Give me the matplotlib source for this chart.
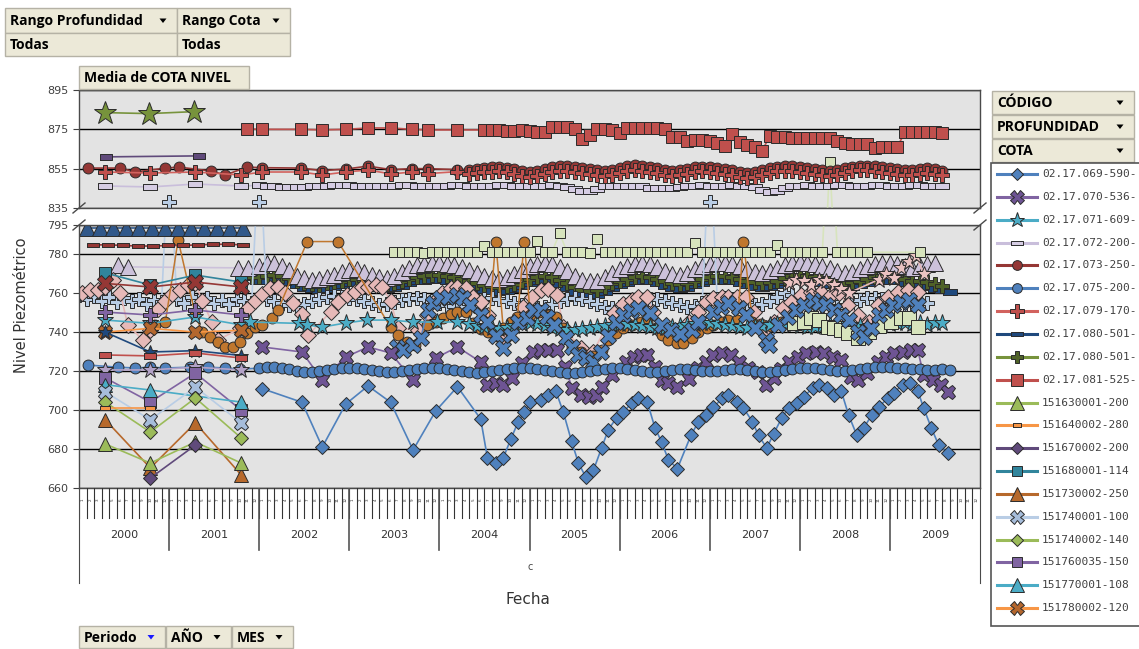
import numpy as np
import matplotlib
matplotlib.use("Agg")
import matplotlib.pyplot as plt
from matplotlib.patches import Rectangle, Polygon

plt.rcParams["font.family"] = ["DejaVu Sans"]

W, H = 1139, 649

# ---------------------------------------------------------------
# datos: posicion en meses contados desde enero de 2000, valor en m
# ---------------------------------------------------------------
meses_2000_2001 = [3.5, 9.5, 15.5, 21.6]

# panel superior
estrella_oliva_mes = [3.5, 9.3, 15.3]
estrella_oliva = [883.5, 883.0, 884.0]

barra_morada_mes = [3.6, 16.0]
barra_morada = [861.0, 861.5]

cota_081_pares = [(22.4, 875.2), (24.4, 875.0), (29.6, 875.0), (32.4, 874.7),
                  (35.5, 875.0), (38.5, 875.7), (41.6, 875.7), (44.3, 875.0),
                  (46.5, 874.7), (50.4, 874.7)]
cota_081_mensual = [  # desde el mes 54
    874.7, 874.7, 874.7, 874.3, 874.3, 874.7, 874.3, 873.8, 873.8, 876.0,
    876.0, 876.0, 875.0, 870.0, 872.0, 875.0, 875.0, 874.7, 873.3, 875.5,
    875.5, 875.5, 875.5, 875.5, 875.0, 871.3, 871.0, 869.2, 869.6, 869.6,
    869.2, 867.9, 866.5, 872.5, 868.7, 867.0, 866.2, 864.2, 871.6, 871.3,
    871.0, 870.4, 870.4, 870.8, 870.8, 870.4, 870.4, 869.2, 867.9, 867.6,
    867.6, 867.6, 865.7, 866.2, 866.2, 866.2, 873.5, 873.5, 873.5, 873.5,
    873.8, 873.3]

cota_073_pares = [(1.2, 855.3), (5.5, 855.3), (7.5, 853.3), (11.5, 855.3),
                  (13.3, 855.8), (17.6, 853.8), (19.5, 851.8), (22.4, 855.8),
                  (24.4, 855.5), (29.6, 855.3), (32.4, 854.0), (35.5, 854.8),
                  (38.5, 856.3), (41.6, 854.5), (44.3, 855.0), (46.5, 855.0),
                  (50.4, 854.5)]
cota_073_mensual = [  # desde el mes 52
    854.5, 855.0, 855.5, 855.8, 856.0, 855.5, 855.0, 854.0, 853.5, 854.0, 855.0, 855.8,
    856.3, 856.5, 856.0, 855.5, 855.0, 854.5, 854.0, 854.5, 855.5, 856.3, 856.8, 856.5,
    856.0, 855.5, 854.5, 854.0, 854.5, 855.0, 855.8, 856.0, 856.0, 855.5, 855.0, 854.5,
    853.5, 853.0, 853.5, 854.5, 855.3, 856.0, 856.3, 856.3, 856.0, 855.5, 855.0, 854.5,
    854.0, 854.5, 855.5, 856.0, 856.5, 856.5, 856.3, 856.0, 855.5, 855.0, 854.5, 854.5,
    855.0, 855.3, 854.8, 854.0]

cota_079_pares = [(3.5, 853.3), (9.5, 852.8), (15.5, 853.3), (21.6, 851.8),
                  (24.4, 853.3), (29.6, 853.3), (32.4, 851.8), (35.5, 853.3),
                  (38.5, 854.3), (41.6, 852.3), (44.3, 853.3), (46.5, 852.5),
                  (50.4, 853.5)]
cota_079_mensual = [  # desde el mes 52
    852.5, 853.0, 853.5, 853.5, 854.0, 853.5, 852.5, 851.5, 850.8, 851.5, 852.5, 853.5,
    854.0, 854.0, 853.5, 853.0, 852.5, 852.0, 851.5, 852.0, 853.0, 854.0, 854.3, 854.0,
    853.5, 853.0, 852.0, 851.5, 852.0, 852.5, 853.5, 853.8, 853.5, 853.0, 852.5, 852.0,
    851.0, 850.5, 851.0, 852.0, 853.0, 853.8, 854.0, 854.0, 853.5, 853.0, 852.5, 852.0,
    851.5, 852.0, 853.0, 853.8, 854.3, 854.3, 854.0, 853.5, 853.0, 852.5, 852.0, 852.0,
    852.5, 853.0, 852.5, 852.0]

cota_072_inicio = [846.2, 845.7, 847.2, 846.2]
cota_072_mensual = [  # desde el mes 24
    846.5, 846.3, 846.0, 845.8, 845.7, 845.7, 845.8, 846.0, 846.2, 846.3, 846.5, 846.5,
    846.5, 846.3, 846.2, 846.0, 846.0, 846.2, 846.3, 846.5, 846.5, 846.3, 846.2, 846.0,
    846.0, 846.2, 846.5, 846.5, 846.3, 846.0, 846.2, 846.3, 846.5, 846.5, 846.3, 846.0,
    846.0, 846.2, 846.3, 846.5, 846.3, 845.8, 844.5, 843.5, 843.5, 844.5, 846.0, 846.3,
    846.2, 846.3, 846.3, 846.0, 845.2, 845.0, 845.0, 845.2, 845.5, 846.0, 846.3, 846.5,
    846.3, 846.2, 846.3, 846.5, 846.3, 846.0, 845.5, 844.0, 843.0, 843.5, 845.0, 846.0,
    846.3, 846.5, 846.3, 846.2, 846.3, 846.5, 846.5, 846.3, 846.2, 846.3, 846.5, 846.5,
    846.3, 846.2, 846.3, 846.5, 846.5, 846.3, 846.2, 846.3]

# panel inferior
triangulos_marino_mes = [1.1, 2.8, 4.5, 6.3, 8.0, 9.7, 11.5, 13.2, 14.9, 16.7, 18.4, 20.1, 21.9]
triangulos_marino = [793.5, 793.5, 793.5, 793.5, 793.5, 793.5, 793.5, 793.5, 793.5,
                     793.5, 793.5, 793.5, 793.5]

rect_granate_mes = [1.9, 3.9, 5.9, 7.9, 9.9, 11.9, 13.9, 15.9, 17.9, 19.9, 21.9]
rect_granate = [784.8, 784.8, 784.5, 784.2, 784.2, 784.5, 784.5, 784.8, 785.1, 785.1, 784.8]

verde_palido_mensual = [  # desde el mes 42
    781.0, 781.0, 781.3, 781.0, 780.8, 781.0, 781.0, 781.3, 781.0, 781.0, 781.0, 781.3,
    784.2, 781.3, 781.0, 781.0, 781.0, 781.3, 781.0, 786.8, 781.3, 781.0, 790.9, 781.0,
    781.0, 781.0, 780.8, 787.8, 781.0, 781.0, 781.0, 781.3, 781.0, 781.0, 781.0, 781.0,
    781.3, 781.0, 781.0, 781.0, 785.8, 781.3, 781.0, 781.0, 781.0, 781.0, 781.3, 781.0,
    781.0, 781.0, 781.0, 784.7, 781.3, 781.0, 781.0, 781.0, 781.0, 781.0, 858.4, 781.0,
    781.0, 781.0, 781.3, 781.0]
verde_palido_final = [(112.0, 781.0)]

lila_pares = [(5.2, 774.5), (6.5, 773.5), (21.2, 773.0), (22.5, 773.0)]
lila_mensual = [  # desde el mes 24
    774.0, 775.5, 775.5, 774.0, 772.0, 769.0, 768.0, 767.0, 767.5, 768.5, 769.5, 771.0,
    772.0, 772.5, 771.0, 769.5, 768.5, 768.0, 769.0, 771.0, 773.0, 774.5, 775.0, 775.5,
    775.5, 775.0, 774.5, 773.5, 772.0, 770.5, 769.0, 768.0, 767.5, 768.5, 770.0, 772.0,
    774.0, 775.0, 775.5, 775.0, 773.5, 771.5, 769.0, 767.0, 766.0, 766.5, 768.5, 770.5,
    772.5, 774.0, 775.0, 775.5, 775.0, 773.5, 771.5, 770.0, 769.5, 770.5, 772.5, 774.0,
    775.0, 775.5, 775.5, 775.0, 774.0, 772.5, 771.0, 770.5, 771.5, 773.0, 774.5, 775.5,
    776.0, 775.5, 775.0, 774.0, 773.0, 771.5, 770.5, 771.0, 772.5, 774.0, 775.0, 775.5,
    775.5, 775.0, 774.0, 773.0, 774.0, 775.0, 775.5]

cota_080b_mensual = [  # desde el mes 22
    767.8, 768.3,
    768.5, 769.0, 769.5, 769.0, 768.0, 766.5, 765.0, 764.5, 764.0, 764.5, 765.5, 766.5,
    767.5, 767.5, 767.0, 766.0, 765.0, 764.5, 765.0, 766.0, 767.5, 768.5, 769.0, 769.5,
    769.5, 769.0, 768.5, 767.5, 766.0, 765.0, 764.0, 763.5, 763.0, 763.5, 764.5, 766.0,
    767.5, 768.5, 769.0, 768.5, 767.0, 765.0, 763.0, 761.5, 761.0, 761.5, 763.0, 765.0,
    766.5, 767.5, 768.5, 769.0, 768.5, 767.5, 766.0, 765.0, 764.5, 765.0, 766.5, 767.5,
    768.5, 769.0, 769.0, 768.5, 767.5, 766.5, 765.5, 765.0, 765.5, 766.5, 768.0, 769.0,
    769.5, 769.0, 768.5, 767.5, 766.5, 765.5, 765.0, 765.5, 766.5, 767.5, 768.5, 769.0,
    769.0, 768.5, 767.5, 766.5, 766.0, 765.5, 764.5, 763.5]

cota_080a_mensual = [  # desde el mes 24
    766.0, 766.5, 767.0, 766.5, 765.5, 764.0, 762.5, 762.0, 761.5, 762.0, 763.0, 764.0,
    765.0, 765.0, 764.5, 763.5, 762.5, 762.0, 762.5, 763.5, 765.0, 766.0, 766.5, 767.0,
    767.0, 766.5, 766.0, 765.0, 763.5, 762.5, 761.5, 761.0, 760.5, 761.0, 762.0, 763.5,
    765.0, 766.0, 766.5, 766.0, 764.5, 762.5, 760.5, 759.0, 758.5, 759.0, 760.5, 762.5,
    764.0, 765.0, 766.0, 766.5, 766.0, 765.0, 763.5, 762.5, 762.0, 762.5, 764.0, 765.0,
    766.0, 766.5, 766.5, 766.0, 765.0, 764.0, 763.0, 762.5, 763.0, 764.0, 765.5, 766.5,
    767.0, 766.5, 766.0, 765.0, 764.0, 763.0, 762.5, 763.0, 764.0, 765.0, 766.0, 766.5,
    766.5, 766.0, 765.0, 764.0, 763.5, 763.0, 762.0, 761.6, 760.6]

cruz_celeste_mensual = [  # desde el mes 0
    759.0, 757.0, 758.5, 756.0, 758.0, 755.5, 757.5, 756.0, 757.0, 754.5, 756.5, 755.5,
    838.0, 757.0, 755.0, 758.0, 756.0, 757.5, 755.0, 756.5, 754.5, 757.0, 756.0, 755.0,
    838.0, 757.0, 756.0, 755.0, 754.0, 753.5, 754.5, 756.0, 757.0, 758.0, 758.5, 758.0,
    757.5, 757.0, 756.0, 755.0, 754.0, 754.5, 755.5, 756.5, 757.0, 757.5, 757.0, 756.0,
    755.0, 754.0, 753.5, 754.0, 755.0, 756.0, 757.0, 757.5, 757.0, 756.0, 755.0, 754.0,
    753.0, 752.5, 753.0, 754.5, 756.0, 757.0, 757.5, 757.0, 756.0, 754.5, 753.0, 752.5,
    753.0, 754.0, 755.5, 756.5, 757.0, 757.0, 756.0, 755.0, 754.0, 753.0, 753.5, 755.0,
    838.0, 757.0, 757.5, 757.0, 756.0, 755.0, 754.0, 754.5, 756.0, 758.0, 760.0, 759.0,
    757.5, 756.0, 755.0, 754.0, 753.5, 753.0, 754.0, 755.0, 756.5, 757.5, 757.5, 757.0,
    756.0, 755.0, 754.5, 755.0, 755.5, 755.0]

rosa_pares = [
    (0.4, 760.0), (1.5, 761.6), (2.5, 761.6), (3.5, 763.0), (4.5, 766.8), (5.5, 760.0),
    (6.5, 743.7), (8.5, 736.0), (9.5, 741.0), (10.5, 752.0), (11.5, 756.0), (12.4, 759.6),
    (13.5, 761.6), (14.5, 764.2), (15.5, 765.2), (16.4, 756.0), (17.7, 745.2), (18.5, 736.0),
    (21.5, 742.0), (22.5, 752.4), (23.5, 756.0), (24.4, 759.6), (25.5, 762.7), (26.5, 763.2),
    (27.5, 760.0), (28.5, 755.0), (29.7, 749.3), (30.5, 738.5), (33.5, 750.3), (34.5, 755.5),
    (35.7, 759.0), (36.8, 760.6), (37.7, 763.2), (38.5, 763.2), (39.5, 764.2), (40.4, 763.0),
    (41.5, 756.0), (42.5, 742.0), (45.1, 741.0), (46.4, 748.8), (47.5, 756.5), (48.4, 760.0),
    (49.5, 762.7), (50.4, 763.2), (51.5, 762.7), (52.5, 758.0), (53.5, 755.5), (54.5, 748.8),
    (56.5, 736.0), (57.9, 743.7), (59.1, 752.9), (60.3, 758.0), (61.5, 761.6), (62.5, 762.0),
    (63.7, 759.0), (64.5, 742.6), (66.8, 731.9), (68.5, 730.0), (71.2, 749.8), (72.4, 754.4),
    (73.6, 756.5), (74.5, 758.0), (75.7, 758.0), (76.5, 750.3), (77.5, 740.0), (81.2, 745.2),
    (82.4, 750.3), (83.5, 755.5), (84.5, 757.5), (85.7, 758.0), (86.5, 758.0), (87.7, 758.0),
    (88.8, 758.0), (89.9, 750.3), (91.5, 742.0), (92.5, 745.2), (93.7, 752.4), (94.8, 755.5),
    (96.1, 759.0), (97.5, 760.6), (98.8, 760.6), (100.1, 759.0), (101.2, 760.0), (102.4, 754.0),
    (103.7, 748.8), (105.2, 745.2), (106.4, 754.0), (107.7, 758.0), (109.1, 760.6),
    (110.4, 761.6), (111.7, 760.6)]

aspa_azul_pares = [
    (42.4, 732.4), (43.2, 731.0), (44.5, 733.4), (45.5, 737.0), (46.5, 751.4), (47.2, 755.0),
    (48.1, 757.5), (49.2, 758.0), (50.4, 759.0), (51.2, 757.5), (52.1, 754.0), (53.5, 748.8),
    (54.4, 745.2), (55.5, 738.0), (56.5, 731.9), (57.5, 738.5), (58.5, 745.2), (59.7, 747.3),
    (60.4, 751.4), (61.5, 751.4), (62.3, 748.0), (63.2, 743.7), (64.8, 737.0), (65.7, 732.4),
    (66.5, 728.3), (67.5, 726.7), (68.5, 724.7), (69.5, 730.0), (70.4, 738.0), (71.5, 745.0),
    (72.5, 748.8), (73.5, 751.0), (74.5, 752.4), (76.1, 750.0), (77.7, 743.7), (78.8, 741.0),
    (80.0, 739.0), (81.7, 741.0), (82.5, 745.0), (84.4, 750.3), (85.5, 752.9), (86.5, 755.0),
    (87.9, 752.4), (88.8, 748.8), (90.0, 742.0), (91.5, 736.0), (91.9, 733.4), (93.1, 743.7),
    (94.4, 747.8), (95.5, 751.4), (96.5, 754.0), (97.7, 756.5), (98.5, 755.0), (99.5, 754.0),
    (100.5, 751.4), (101.5, 748.8), (102.5, 746.2), (103.7, 740.0), (104.5, 737.5),
    (105.5, 742.0), (106.5, 748.8), (107.5, 751.4), (108.4, 754.0), (109.5, 755.5),
    (110.5, 756.5), (111.7, 754.0)]

circulo_naranja_pares = [
    (10.1, 743.7), (11.5, 745.2), (13.2, 787.3), (15.5, 748.8), (16.4, 740.0), (17.5, 737.5),
    (18.5, 735.0), (19.5, 732.4), (20.5, 732.4), (21.5, 735.0), (22.4, 739.6), (23.5, 742.6),
    (24.4, 743.7), (25.7, 747.3), (26.5, 751.4), (30.4, 786.5), (34.5, 786.5), (41.5, 742.6),
    (42.5, 738.5), (43.7, 735.0), (44.8, 733.5), (46.4, 743.7), (47.5, 745.2), (48.5, 747.3),
    (49.5, 749.3), (50.4, 750.3), (51.5, 750.3), (52.5, 744.7), (53.5, 741.6), (54.5, 740.0),
    (55.5, 786.5), (56.5, 742.0), (57.5, 745.0), (58.4, 748.0), (59.3, 786.5), (60.1, 749.0),
    (61.2, 750.3), (62.4, 749.0), (63.5, 747.8), (64.5, 742.0), (65.7, 732.4), (66.8, 729.8),
    (67.5, 726.7), (68.5, 728.0), (69.7, 731.0), (70.5, 736.0), (71.5, 739.6), (72.5, 742.0),
    (73.7, 743.7), (74.8, 745.2), (75.7, 745.2), (76.8, 742.0), (77.7, 738.5), (78.5, 736.0),
    (79.7, 734.4), (80.5, 734.4), (81.7, 737.0), (82.5, 740.0), (83.7, 742.0), (84.5, 743.7),
    (85.7, 745.2), (86.5, 746.2), (87.7, 746.0), (88.5, 786.5), (89.7, 745.2), (90.8, 744.0),
    (92.1, 743.0), (93.5, 745.0), (94.8, 746.0), (96.1, 745.0)]

cota_071_pares = [(3.5, 746.2), (9.5, 744.5), (15.5, 747.8), (21.6, 743.7), (22.8, 745.2),
                  (29.3, 744.5), (30.4, 743.7), (32.4, 742.6), (35.5, 744.7), (38.4, 746.2),
                  (41.5, 746.2), (44.5, 745.2), (47.7, 745.2), (50.4, 745.2)]
cota_071_mensual = [  # desde el mes 52
    744.0, 743.0, 742.5, 742.0, 741.5, 742.0, 743.0, 744.0, 744.5, 744.0, 743.0, 742.0,
    741.5, 741.0, 741.0, 741.5, 742.0, 742.5, 743.0, 743.5, 744.0, 744.0, 743.5, 743.0,
    742.5, 742.0, 742.0, 742.5, 743.0, 743.5, 744.0, 744.5, 744.5, 744.0, 743.5, 743.0,
    742.5, 742.0, 742.5, 743.0, 743.5, 744.0, 744.0, 743.5, 743.0, 742.5, 742.5, 743.0,
    743.5, 744.0, 744.0, 743.5, 743.0, 742.5, 743.0, 743.5, 744.0, 744.5, 744.5, 744.0,
    744.7, 743.7, 744.7, 744.7]

cota_070_pares = [
    (24.4, 732.4), (29.7, 729.8), (32.4, 715.4), (35.5, 727.2), (38.5, 732.4), (41.5, 729.3),
    (44.5, 715.4), (47.5, 726.7), (50.4, 732.4), (53.5, 724.7), (54.4, 712.8), (55.5, 713.9),
    (56.5, 712.8), (57.7, 716.5), (59.0, 724.0), (60.4, 729.8), (61.5, 730.8), (62.5, 730.8),
    (63.7, 730.8), (64.7, 722.0), (65.7, 711.3), (66.8, 707.7), (67.9, 706.7), (68.8, 707.7),
    (69.7, 711.8), (71.0, 718.0), (72.8, 724.7), (73.9, 727.2), (74.8, 728.3), (75.7, 728.3),
    (76.7, 722.0), (77.7, 715.4), (78.5, 713.9), (79.7, 711.8), (81.2, 716.0), (82.5, 721.6),
    (83.5, 724.7), (84.5, 728.3), (85.7, 729.3), (86.8, 728.3), (87.9, 724.7), (89.1, 721.6),
    (90.4, 719.5), (91.5, 712.8), (92.5, 716.5), (93.5, 721.0), (94.5, 724.7), (95.7, 727.2),
    (96.8, 729.3), (98.1, 729.8), (99.2, 729.3), (100.4, 727.2), (101.5, 725.7), (102.8, 717.0),
    (103.7, 715.4), (105.0, 719.0), (106.4, 724.7), (107.5, 727.2), (108.5, 729.3),
    (109.7, 729.8), (110.8, 730.8), (111.7, 730.8), (112.5, 718.0), (113.7, 715.4),
    (114.8, 712.8), (115.7, 709.3)]

cota_075_pares = [(1.2, 723.1), (5.2, 722.0), (7.5, 721.6), (9.5, 722.0), (11.5, 721.6),
                  (14.8, 722.0), (17.2, 722.0), (19.5, 721.6), (21.5, 721.0)]
cota_075_mensual = [  # desde el mes 24
    721.5, 722.0, 722.0, 721.5, 721.0, 720.0, 719.5, 719.5, 720.0, 720.5, 721.0, 721.5,
    721.5, 721.5, 721.0, 720.5, 720.0, 719.5, 719.5, 720.0, 720.5, 721.0, 721.5, 721.5,
    721.5, 721.0, 720.5, 720.0, 719.5, 719.0, 719.5, 720.0, 720.5, 721.0, 721.5, 721.5,
    721.5, 721.0, 720.5, 720.0, 719.5, 719.0, 719.0, 719.5, 720.0, 720.5, 721.0, 721.5,
    721.5, 721.0, 720.5, 720.0, 719.5, 719.5, 720.0, 720.5, 721.0, 721.0, 720.5, 720.0,
    720.0, 720.0, 720.5, 721.0, 721.0, 720.5, 720.0, 719.5, 719.5, 720.0, 720.5, 721.0,
    721.5, 721.5, 721.5, 721.0, 720.5, 720.0, 720.0, 720.5, 721.0, 721.5, 722.0, 722.0,
    722.0, 721.5, 721.5, 721.0, 721.0, 720.5, 720.5, 721.0, 720.6]

cota_069_pares = [
    (24.4, 711.0), (29.7, 704.0), (32.4, 681.0), (35.5, 703.0), (38.5, 712.4), (41.5, 704.0),
    (44.5, 679.5), (47.5, 699.5), (50.4, 712.0), (53.5, 695.4), (54.4, 675.4), (55.5, 672.8),
    (56.5, 675.4), (57.5, 685.0), (58.5, 694.0), (59.3, 699.0), (60.1, 704.0), (61.5, 705.0),
    (62.5, 707.7), (63.5, 709.8), (64.5, 699.0), (65.6, 684.0), (66.5, 673.0), (67.5, 665.6),
    (68.5, 669.0), (69.6, 680.5), (70.5, 690.0), (71.6, 696.0), (72.5, 699.0), (73.6, 703.6),
    (74.5, 706.0), (75.7, 704.0), (76.7, 691.0), (77.6, 683.6), (78.5, 674.4), (79.7, 670.0),
    (81.5, 687.0), (82.5, 694.0), (83.5, 697.5), (84.5, 701.6), (85.7, 706.0), (86.5, 707.7),
    (87.7, 704.0), (88.5, 701.0), (89.7, 694.0), (90.5, 687.0), (91.6, 680.5), (92.5, 687.7),
    (93.6, 696.0), (94.5, 701.0), (95.6, 703.6), (96.5, 706.7), (97.7, 711.3), (98.5, 712.9),
    (99.6, 711.3), (100.5, 707.7), (101.5, 710.0), (102.5, 697.5), (103.6, 687.0),
    (104.5, 690.8), (105.6, 697.5), (106.5, 701.6), (107.7, 706.0), (108.5, 709.0),
    (109.7, 712.9), (110.7, 713.9), (111.7, 710.0), (112.5, 701.0), (113.5, 691.0),
    (114.5, 682.0), (115.7, 678.0)]

estrella_rosa_pares = [(94.5, 765.0), (95.5, 767.0), (96.5, 766.0), (97.5, 764.0), (98.5, 767.0),
                       (99.5, 766.0), (100.5, 764.0), (101.5, 762.0), (102.5, 760.0),
                       (106.5, 767.0), (107.5, 770.0), (108.5, 768.0), (109.5, 773.0),
                       (110.5, 776.0), (111.5, 779.0), (112.5, 770.0)]

cuadro_verde_pares = [(95.2, 744.7), (96.5, 745.4), (97.5, 747.3), (98.5, 746.0), (99.7, 742.6),
                      (100.5, 742.0), (101.5, 741.0), (102.4, 739.6), (103.7, 737.0),
                      (105.2, 740.0), (106.5, 743.0), (108.1, 745.2), (109.5, 747.3),
                      (110.5, 747.3), (111.7, 742.6)]

# pozos con medidas solo en 2000-2001
p151740001 = [709.3, 695.0, 711.8, 693.4]
p151740002 = [704.1, 688.7, 706.2, 685.7]
p151630001 = [682.6, 672.8, 683.6, 672.8]
p151730002 = [695.0, 670.3, 693.4, 666.7]
p151670002_mes = [9.5, 15.5]
p151670002 = [665.1, 682.0]
p151760035 = [716.5, 704.1, 719.0, 700.0]
p151770001_mes = [3.5, 9.5, 21.6]
p151770001 = [713.0, 710.3, 704.1]
p151680001 = [770.4, 764.2, 769.3, 765.7]
p151640002_mes = [3.5, 9.5]
p151640002 = [701.0, 701.0]
p151780002 = [740.0, 742.0, 740.0, 741.0]
estrella_lavanda = [720.6, 720.6, 722.0, 720.6]
estrella_marino = [740.0, 729.8, 730.5, 728.0]
rect_rojo = [728.3, 727.8, 729.3, 726.7]
aspa_granate = [765.0, 763.2, 765.7, 763.2]
cruz_morada = [750.3, 748.8, 751.4, 748.8]

etiquetas_leyenda = ["02.17.069-590-", "02.17.070-536-", "02.17.071-609-", "02.17.072-200-",
                     "02.17.073-250-", "02.17.075-200-", "02.17.079-170-", "02.17.080-501-",
                     "02.17.080-501-", "02.17.081-525-", "151630001-200", "151640002-280",
                     "151670002-200", "151680001-114", "151730002-250", "151740001-100",
                     "151740002-140", "151760035-150", "151770001-108", "151780002-120"]
anios = list(range(2000, 2010))


def fecha(mes):
    return 2000 + np.asarray(mes, dtype=float) / 12


def mensual(inicio, valores):
    return fecha(np.arange(inicio, inicio + len(valores))), np.asarray(valores, dtype=float)


def pares(lista):
    m, v = zip(*lista)
    return fecha(m), np.asarray(v, dtype=float)


def simple(meses, valores):
    return fecha(meses), np.asarray(valores, dtype=float)


def unir(*partes):
    return (np.concatenate([p[0] for p in partes]),
            np.concatenate([p[1] for p in partes]))


RECT = [(-1, -0.42), (1, -0.42), (1, 0.42), (-1, 0.42), (-1, -0.42)]
BORDE = "#2b2b2b"


def estilo(color, marker, ms, mfc=None, lw=1.2, mew=0.7):
    return dict(color=color, marker=marker, ms=ms, mfc=mfc or color, mec=BORDE,
                mew=mew, lw=lw)


E = {
    "069": estilo("#4F81BD", "D", 7.2),
    "070": estilo("#8064A2", "X", 10.5, mfc="#6E5494"),
    "071": estilo("#4BACC6", "*", 12.5),
    "072": estilo("#C9BEDB", RECT, 9.5, mfc="#D6CDE4"),
    "073": estilo("#953735", "o", 7.8),
    "075": estilo("#4F81BD", "o", 7.8),
    "079": estilo("#D2625E", "P", 10.5, mfc="#C0504D"),
    "080a": estilo("#1F497D", RECT, 9.5),
    "080b": estilo("#77933C", "P", 10, mfc="#4F6228"),
    "081": estilo("#C0504D", "s", 8.8),
    "151630001": estilo("#9BBB59", "^", 10.5),
    "151640002": estilo("#F79646", RECT, 7),
    "151670002": estilo("#604A7B", "D", 7.2),
    "151680001": estilo("#31859C", "s", 8),
    "151730002": estilo("#B7692C", "^", 10.5),
    "151740001": estilo("#B9CDE5", "X", 10.5, mfc="#A6BDDB"),
    "151740002": estilo("#9BBB59", "D", 7.2),
    "151760035": estilo("#8064A2", "s", 8),
    "151770001": estilo("#4BACC6", "^", 10.5),
    "151780002": estilo("#F79646", "X", 10.5, mfc="#B4672E"),
}
extra = {
    "estrella_oliva": estilo("#77933C", "*", 17),
    "barra_morada": estilo("#604A7B", RECT, 9),
    "tri_marino": estilo("#31588A", "^", 11),
    "rect_granate": estilo("#953735", RECT, 8.5),
    "verde_palido": estilo("#D7E4BD", "s", 7, mfc="#D7E4BD"),
    "lila": estilo("#CCC1DA", "^", 11.5),
    "cruz_celeste": estilo("#B9CDE5", "P", 10.5),
    "rosa": estilo("#E6B9B8", "D", 8),
    "aspa_azul": estilo("#5B85BE", "X", 11, mfc="#4F81BD"),
    "circ_naranja": estilo("#C0772E", "o", 7.8, lw=1.1),
    "estrella_rosa": estilo("#E6B9B8", "*", 12, mfc="#EBC3C2"),
    "cuadro_verde": estilo("#D7E4BD", "s", 10, mfc="#D7E4BD"),
    "estrella_lavanda": estilo("#B3A2C7", "*", 12),
    "estrella_marino": estilo("#1F497D", "*", 10),
    "rect_rojo": estilo("#C0504D", RECT, 9),
    "aspa_granate": estilo("#953735", "X", 11),
    "cruz_morada": estilo("#8064A2", "P", 10),
}

m0 = meses_2000_2001
series = [
    (mensual(24, cota_080a_mensual), E["080a"]),
    (mensual(22, cota_080b_mensual), E["080b"]),
    (unir(pares(lila_pares), mensual(24, lila_mensual)), extra["lila"]),
    (mensual(0, cruz_celeste_mensual), extra["cruz_celeste"]),
    (pares(rosa_pares), extra["rosa"]),
    (pares(circulo_naranja_pares), extra["circ_naranja"]),
    (unir(pares(cota_071_pares), mensual(52, cota_071_mensual)), E["071"]),
    (pares(cuadro_verde_pares), extra["cuadro_verde"]),
    (pares(estrella_rosa_pares), extra["estrella_rosa"]),
    (pares(aspa_azul_pares), extra["aspa_azul"]),
    (pares(cota_070_pares), E["070"]),
    (unir(pares(cota_075_pares), mensual(24, cota_075_mensual)), E["075"]),
    (pares(cota_069_pares), E["069"]),
    (unir(mensual(42, verde_palido_mensual), pares(verde_palido_final)), extra["verde_palido"]),
    (simple(triangulos_marino_mes, triangulos_marino), extra["tri_marino"]),
    (simple(rect_granate_mes, rect_granate), extra["rect_granate"]),
    (simple(m0, p151680001), E["151680001"]),
    (simple(m0, aspa_granate), extra["aspa_granate"]),
    (simple(m0, cruz_morada), extra["cruz_morada"]),
    (simple(m0, p151780002), E["151780002"]),
    (simple(m0, estrella_marino), extra["estrella_marino"]),
    (simple(m0, rect_rojo), extra["rect_rojo"]),
    (simple(m0, estrella_lavanda), extra["estrella_lavanda"]),
    (simple(m0, p151760035), E["151760035"]),
    (simple(p151770001_mes, p151770001), E["151770001"]),
    (simple(m0, p151740001), E["151740001"]),
    (simple(m0, p151740002), E["151740002"]),
    (simple(p151640002_mes, p151640002), E["151640002"]),
    (simple(m0, p151730002), E["151730002"]),
    (simple(m0, p151630001), E["151630001"]),
    (simple(p151670002_mes, p151670002), E["151670002"]),
    # panel superior
    (unir(simple(m0, cota_072_inicio), mensual(24, cota_072_mensual)), E["072"]),
    (unir(pares(cota_073_pares), mensual(52, cota_073_mensual)), E["073"]),
    (unir(pares(cota_079_pares), mensual(52, cota_079_mensual)), E["079"]),
    (unir(pares(cota_081_pares), mensual(54, cota_081_mensual)), E["081"]),
    (simple(barra_morada_mes, barra_morada), extra["barra_morada"]),
    (simple(estrella_oliva_mes, estrella_oliva), extra["estrella_oliva"]),
]


def caja(x0, y0, x1, y1):
    return [x0 / W, 1 - y1 / H, (x1 - x0) / W, (y1 - y0) / H]


fig = plt.figure(figsize=(W / 100, H / 100), dpi=100)
fig.patch.set_facecolor("white")

ax_sup = fig.add_axes(caja(79, 90, 980, 208))
ax_inf = fig.add_axes(caja(79, 225, 980, 488))
ax_x = fig.add_axes(caja(79, 488, 980, 583))

GRIS = "#E3E3E3"
EJE = "#4a4a4a"
for ax, lim, ticks in ((ax_sup, (835, 895), [835, 855, 875, 895]),
                       (ax_inf, (660, 795), [660, 680, 700, 720, 740, 760, 780, 795])):
    ax.set_facecolor(GRIS)
    for (x, y), e in series:
        ax.plot(x, y, **e)
    ax.set_xlim(2000, 2010)
    ax.set_ylim(*lim)
    ax.set_yticks(ticks)
    ax.set_xticks([])
    ax.tick_params(axis="y", labelsize=8, colors="#404040", length=4, width=0.8)
    ax.yaxis.grid(True, color="black", lw=1)
    ax.set_axisbelow(True)
    for s in ax.spines.values():
        s.set_color(EJE)
        s.set_linewidth(1)

# marcas de corte del eje
for ax, yb, alto in ((ax_sup, 0, 118), (ax_inf, 1, 263)):
    dx, dy = 6 / 901, 5 / alto
    for xb in (0, 1):
        ax.plot([xb - dx, xb + dx], [yb - dy, yb + dy], transform=ax.transAxes,
                color=EJE, lw=1, clip_on=False)

# eje de fechas: meses y años
ax_x.set_xlim(2000, 2010)
ax_x.set_ylim(1, 0)
ax_x.set_xticks([])
ax_x.set_yticks([])
ax_x.patch.set_alpha(0)
for lado in ("top", "bottom"):
    ax_x.spines[lado].set_visible(False)
for lado in ("left", "right"):
    ax_x.spines[lado].set_color(EJE)
for m in range(120):
    xm = fecha(m)
    ax_x.plot([xm, xm], [0, 0.32], color="#333333", lw=0.8)
    ax_x.text(xm + 1 / 24, 0.12, str(m % 12 + 1), fontsize=3, rotation=90,
              ha="center", va="center", color="#333333")
for a in anios[1:]:
    ax_x.plot([a, a], [0, 0.65], color="#555555", lw=1.2)
for a in anios:
    ax_x.text(a + 0.5, 0.495, str(a), fontsize=8, ha="center", va="center", color="#333333")

# capa de textos y botones
capa = fig.add_axes([0, 0, 1, 1])
capa.set_xlim(0, W)
capa.set_ylim(H, 0)
capa.axis("off")
capa.patch.set_alpha(0)

BOTON = "#ECE9D8"
BORDE_BOTON = "#B5B2A5"
FUENTE_BOTON = dict(family="Open Sans", fontweight="bold", fontsize=10, color="black")


def flecha(x, y, color="black"):
    capa.add_patch(Polygon([(x - 3.5, y - 2), (x + 3.5, y - 2), (x, y + 2.5)],
                           closed=True, color=color, lw=0))


def boton(x0, y0, x1, y1, texto, con_flecha=True, color_flecha="black"):
    capa.add_patch(Rectangle((x0, y0), x1 - x0, y1 - y0, facecolor=BOTON,
                             edgecolor=BORDE_BOTON, lw=1))
    capa.text(x0 + 5, (y0 + y1) / 2 + 0.5, texto, ha="left", va="center", **FUENTE_BOTON)
    if con_flecha:
        flecha(x1 - 14, (y0 + y1) / 2, color_flecha)


boton(5, 8, 177, 33, "Rango Profundidad")
boton(177, 8, 290, 33, "Rango Cota")
boton(5, 33, 177, 56, "Todas", False)
boton(177, 33, 290, 56, "Todas", False)
boton(79, 66, 249, 89, "Media de COTA NIVEL", False)
boton(992, 91, 1134, 114, "CÓDIGO")
boton(992, 115, 1134, 138, "PROFUNDIDAD")
boton(992, 139, 1134, 162, "COTA")
boton(79, 626, 165, 648, "Periodo", color_flecha="#1a1aff")
boton(166, 626, 231, 648, "AÑO")
boton(232, 626, 293, 648, "MES")

capa.text(22, 305, "Nivel Piezométrico", rotation=90, ha="center", va="center",
          fontsize=10.5, color="#333333")
capa.text(530, 567, "c", ha="center", va="center", fontsize=7, color="#444444")
capa.text(528, 600, "Fecha", ha="center", va="center", fontsize=11, color="#333333")

# leyenda
capa.add_patch(Rectangle((991, 163), 160, 463, facecolor="white", edgecolor="#555555", lw=1.2))
claves = ["069", "070", "071", "072", "073", "075", "079", "080a", "080b", "081",
          "151630001", "151640002", "151670002", "151680001", "151730002", "151740001",
          "151740002", "151760035", "151770001", "151780002"]
for i, (clave, etiqueta) in enumerate(zip(claves, etiquetas_leyenda)):
    yl = 174 + i * 22.85
    e = dict(E[clave])
    capa.plot([997, 1037], [yl, yl], color=e["color"], lw=2.2)
    e.pop("lw")
    e["ms"] = e["ms"] * 0.9
    capa.plot([1017], [yl], ls="none", **e)
    capa.text(1042, yl, etiqueta, ha="left", va="center", fontsize=8,
              family="DejaVu Sans Mono", color="#404040")

fig.savefig("out.png", dpi=100)
